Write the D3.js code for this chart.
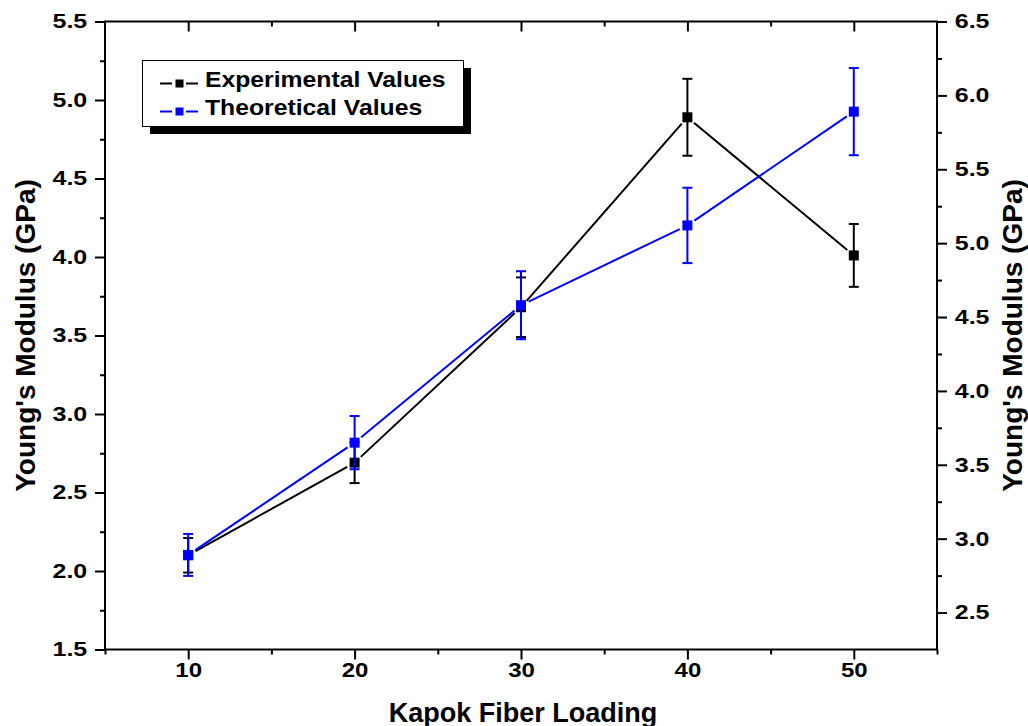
<!DOCTYPE html>
<html>
<head>
<meta charset="utf-8">
<script src="https://cdn.jsdelivr.net/npm/d3@7"></script>
<style>
  html, body { margin: 0; padding: 0; background: #fff; }
  svg text { font-family: "Liberation Sans", Arial, sans-serif; font-weight: bold; fill: #000; }
</style>
</head>
<body>
<svg id="chart" width="1028" height="726"></svg>
<script>
// ---- data ----
const loading = [10, 20, 30, 40, 50];
const expValues = [2.10, 2.69, 3.68, 4.89, 4.01];     // left axis
const expErrors = [0.11, 0.13, 0.19, 0.245, 0.20];
const theoValues = [2.89, 3.65, 4.58, 5.12, 5.89];    // right axis
const theoErrors = [0.142, 0.18, 0.23, 0.255, 0.295];
const xTicks = [10, 20, 30, 40, 50];
const xMinorTicks = [5, 15, 25, 35, 45, 55];
const yLeftTicks = [1.5, 2.0, 2.5, 3.0, 3.5, 4.0, 4.5, 5.0, 5.5];
const yLeftMinor = [1.75, 2.25, 2.75, 3.25, 3.75, 4.25, 4.75, 5.25];
const yRightTicks = [2.5, 3.0, 3.5, 4.0, 4.5, 5.0, 5.5, 6.0, 6.5];
const yRightMinor = [2.75, 3.25, 3.75, 4.25, 4.75, 5.25, 5.75, 6.25];
const legendLabels = ["Experimental Values", "Theoretical Values"];
const seriesColors = ["#000000", "#0000ff"];

// ---- layout ----
const L = 105, R = 937, T = 21.5, B = 649.5;
const svg = d3.select("#chart");

const x = d3.scaleLinear().domain([5, 55]).range([L, R]);
const yL = d3.scaleLinear().domain([1.5, 5.5]).range([B, T]);
const yR = d3.scaleLinear().domain([2.25, 6.5]).range([B, T]);

function styleAxis(g) {
  g.select(".domain").remove();
  g.selectAll(".tick line").attr("stroke", "#000").attr("stroke-width", 2);
}

// bottom axis
svg.append("g").attr("transform", `translate(0,${B})`)
  .call(d3.axisBottom(x).tickValues(xTicks).tickSize(10).tickPadding(3).tickFormat(d3.format("d")))
  .call(styleAxis)
  .call(g => g.selectAll("text").style("font-size", "20px").attr("transform", "scale(1.2,1)"));
svg.append("g").attr("transform", `translate(0,${B})`)
  .call(d3.axisBottom(x).tickValues(xMinorTicks).tickSize(5).tickFormat(""))
  .call(styleAxis);

// top axis (inward ticks)
svg.append("g").attr("transform", `translate(0,${T})`)
  .call(d3.axisBottom(x).tickValues(xTicks).tickSize(10).tickFormat(""))
  .call(styleAxis);
svg.append("g").attr("transform", `translate(0,${T})`)
  .call(d3.axisBottom(x).tickValues(xMinorTicks.slice(1, -1)).tickSize(5).tickFormat(""))
  .call(styleAxis);

// left axis
svg.append("g").attr("transform", `translate(${L},0)`)
  .call(d3.axisLeft(yL).tickValues(yLeftTicks).tickSize(10).tickFormat(d3.format(".1f")))
  .call(styleAxis)
  .call(g => g.selectAll("text").style("font-size", "20px")
    .attr("x", -14.2).attr("transform", "scale(1.25,1)"));
svg.append("g").attr("transform", `translate(${L},0)`)
  .call(d3.axisLeft(yL).tickValues(yLeftMinor).tickSize(5).tickFormat(""))
  .call(styleAxis);

// right axis
svg.append("g").attr("transform", `translate(${R},0)`)
  .call(d3.axisRight(yR).tickValues(yRightTicks).tickSize(10).tickFormat(d3.format(".1f")))
  .call(styleAxis)
  .call(g => g.selectAll("text").style("font-size", "20px")
    .attr("x", 14.2).attr("transform", "scale(1.25,1)"));
svg.append("g").attr("transform", `translate(${R},0)`)
  .call(d3.axisRight(yR).tickValues(yRightMinor).tickSize(5).tickFormat(""))
  .call(styleAxis);

// frame
svg.append("rect").attr("x", L).attr("y", T).attr("width", R - L).attr("height", B - T)
  .attr("fill", "none").attr("stroke", "#000").attr("stroke-width", 2);

// axis titles
svg.append("text").attr("transform", `translate(34.5,${(T + B) / 2}) rotate(-90)`)
  .attr("text-anchor", "middle").style("font-size", "28px").text("Young's Modulus (GPa)");
svg.append("text").attr("transform", `translate(1022,${(T + B) / 2}) rotate(-90)`)
  .attr("text-anchor", "middle").style("font-size", "28px").text("Young's Modulus (GPa)");
svg.append("text").attr("x", (L + R) / 2 + 2).attr("y", 721.5)
  .attr("text-anchor", "middle").style("font-size", "27px").text("Kapok Fiber Loading");

// series
function drawSeries(vals, errs, yScale, color) {
  const g = svg.append("g");
  const pts = loading.map((d, i) => [x(d), yScale(vals[i])]);
  const gap = 8.5;
  for (let i = 0; i < pts.length - 1; i++) {
    const [x1, y1] = pts[i], [x2, y2] = pts[i + 1];
    const len = Math.hypot(x2 - x1, y2 - y1);
    const ux = (x2 - x1) / len, uy = (y2 - y1) / len;
    g.append("line")
      .attr("x1", x1 + ux * gap).attr("y1", y1 + uy * gap)
      .attr("x2", x2 - ux * gap).attr("y2", y2 - uy * gap)
      .attr("stroke", color).attr("stroke-width", 2);
  }
  loading.forEach((d, i) => {
    const cx = x(d);
    const yt = yScale(vals[i] + errs[i]), yb = yScale(vals[i] - errs[i]);
    g.append("line").attr("x1", cx).attr("x2", cx).attr("y1", yt).attr("y2", yb)
      .attr("stroke", color).attr("stroke-width", 2);
    [yt, yb].forEach(yy => g.append("line").attr("x1", cx - 5).attr("x2", cx + 5)
      .attr("y1", yy).attr("y2", yy).attr("stroke", color).attr("stroke-width", 2));
    g.append("rect").attr("x", cx - 5).attr("y", yScale(vals[i]) - 5)
      .attr("width", 10).attr("height", 10).attr("fill", color);
  });
}
drawSeries(expValues, expErrors, yL, seriesColors[0]);
drawSeries(theoValues, theoErrors, yR, seriesColors[1]);

// legend
const lg = svg.append("g");
lg.append("rect").attr("x", 150).attr("y", 68).attr("width", 321).attr("height", 66).attr("fill", "#000");
lg.append("rect").attr("x", 142.5).attr("y", 60.5).attr("width", 321).attr("height", 66)
  .attr("fill", "#fff").attr("stroke", "#000").attr("stroke-width", 1);
const legY = [83.5, 111.5];
legendLabels.forEach((lab, i) => {
  const c = seriesColors[i], yy = legY[i];
  lg.append("line").attr("x1", 160).attr("x2", 172).attr("y1", yy).attr("y2", yy)
    .attr("stroke", c).attr("stroke-width", 2);
  lg.append("line").attr("x1", 186).attr("x2", 198).attr("y1", yy).attr("y2", yy)
    .attr("stroke", c).attr("stroke-width", 2);
  lg.append("rect").attr("x", 175.5).attr("y", yy - 4).attr("width", 8).attr("height", 8).attr("fill", c);
  lg.append("text").attr("x", 205 / 1.1).attr("y", yy + 3.5 + (i === 1 ? 0.5 : 0))
    .attr("transform", "scale(1.1,1)")
    .style("font-size", "22.5px").text(lab);
});
</script>
</body>
</html>
